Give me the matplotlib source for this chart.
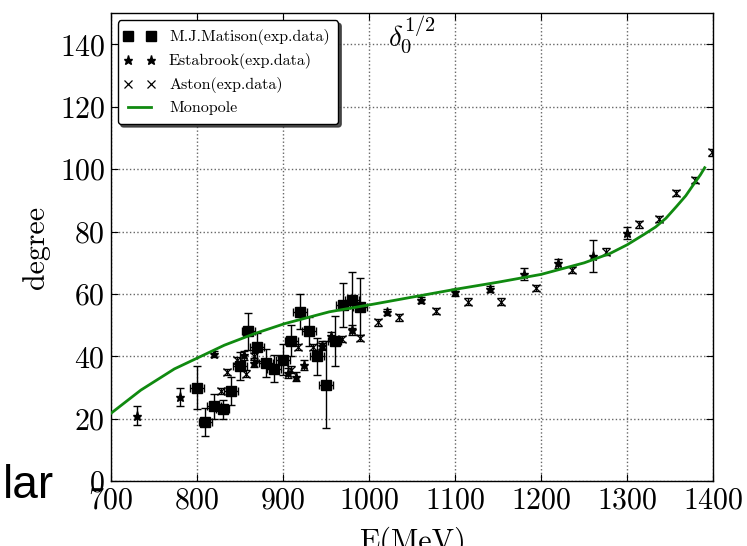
import matplotlib

matplotlib.use("Agg")
import matplotlib.pyplot as plt
from matplotlib.legend_handler import HandlerLine2D
from matplotlib.lines import Line2D

plt.rcParams["font.family"] = "serif"
plt.rcParams["font.serif"] = ["cmr10", "DejaVu Serif"]
plt.rcParams["mathtext.fontset"] = "cm"
plt.rcParams["axes.formatter.use_mathtext"] = True

# M.J.Matison (exp. data): squares with x and y error bars
mm_e = [800, 810, 820, 830, 840, 850, 860, 870, 880, 890,
        900, 910, 920, 930, 940, 950, 960, 970, 980, 990]
mm_d = [30, 19, 24, 23, 29, 37, 48, 43, 38, 36,
        39, 45, 54.4, 48, 40, 31, 45, 56.5, 58, 56]
mm_derr = [7, 4.5, 4, 3, 4.5, 4.5, 6, 4.5, 4.5, 4.3,
           5, 5, 5.5, 4.6, 6, 14, 8, 7, 9, 9]
mm_eerr = [8] * len(mm_e)

# Estabrook (exp. data): stars
es_e = [730, 780, 820, 855, 866, 906, 915, 925, 945, 956, 980,
        1021, 1060, 1100, 1141, 1180, 1220, 1260, 1300]
es_d = [21, 27, 40.7, 40.3, 38, 34.7, 33.5, 37.2, 43.5, 46.4, 48.5,
        54.3, 58.2, 60.5, 61.6, 66.5, 69.8, 72.2, 79.6]
es_derr = [3, 3, 1, 1.5, 1.5, 1.5, 1.5, 1.5, 1.5, 1.5, 1.5,
           1, 1, 1, 1, 2, 1.5, 5, 2]

# Aston (exp. data): crosses
as_e = [828, 835, 847, 857, 867, 909, 918, 935, 946, 969, 990,
        1011, 1035, 1078, 1115, 1153, 1194, 1236, 1275, 1314, 1337,
        1357, 1379, 1398]
as_d = [29, 35, 38.7, 34.5, 40, 35.8, 43, 43, 43.3, 45.5, 46,
        50.9, 52.5, 54.6, 57.6, 57.6, 62, 67.7, 73.6, 82.3, 84,
        92.5, 96.5, 105.4]

# Monopole model curve
mono_e = [700, 735, 774, 800, 832, 867, 902, 954, 1000, 1050, 1100,
          1150, 1200, 1250, 1280, 1300, 1310, 1320, 1333, 1345, 1357,
          1368, 1378, 1385, 1390]
mono_d = [21.7, 29.2, 36, 39.4, 43.6, 47.3, 50.5, 54.3, 56.5, 59, 61.5,
          63.8, 66.3, 70, 73, 75.8, 77.5, 79.2, 81.5, 84.3, 88,
          91.5, 95.5, 98.2, 100.5]

fig = plt.figure(figsize=(7.47, 5.46), dpi=100)
ax = fig.add_axes([110.7 / 747, 1 - 481.2 / 546,
                   (713.3 - 110.7) / 747, (481.2 - 13.3) / 546])

ebar = dict(fmt="none", ecolor="k", elinewidth=1.0, capsize=2.7, capthick=1.0, zorder=3)
ax.errorbar(mm_e, mm_d, yerr=mm_derr, xerr=mm_eerr, **ebar)
ax.errorbar(es_e, es_d, yerr=es_derr, **ebar)
ax.errorbar(as_e, as_d, yerr=[1] * len(as_e), **ebar)

ax.plot(mm_e, mm_d, ls="none", marker="s", ms=7, color="k",
        label="M.J.Matison(exp.data)", zorder=4)
ax.plot(es_e, es_d, ls="none", marker="*", ms=6.5, color="k",
        label="Estabrook(exp.data)", zorder=4)
ax.plot(as_e, as_d, ls="none", marker="x", ms=5.5, mew=0.9, color="k",
        label="Aston(exp.data)", zorder=4)
ax.plot(mono_e, mono_d, color="#108a10", lw=2.0, label="Monopole", zorder=5)

ax.set_xlim(700, 1400)
ax.set_ylim(0, 150)
ax.set_xticks(range(700, 1401, 100))
ax.set_yticks(range(0, 141, 20))
ax.grid(True, linestyle=":", color="0.4", linewidth=1.0)
ax.tick_params(direction="in", top=True, right=True, labelsize=21.5,
               length=5, pad=4)
for s in ax.spines.values():
    s.set_linewidth(1.0)

ax.set_xlabel("E(MeV)", fontsize=21.5, labelpad=9)
ax.set_ylabel("degree", fontsize=21.5, labelpad=7)
ax.text(0.5, 0.955, r"$\delta_0^{1/2}$", transform=ax.transAxes,
        ha="center", va="center", fontsize=21)

leg = ax.legend(loc="upper left", numpoints=2, fontsize=11.5, fancybox=True,
                shadow={"shade": 0.8, "alpha": 0.85}, framealpha=1,
                edgecolor="k", handlelength=1.65, handletextpad=1.0,
                labelspacing=0.5, borderpad=0.55, borderaxespad=0.45,
                handler_map={Line2D: HandlerLine2D(marker_pad=0.1)})
leg.get_frame().set_linewidth(1.0)

fig.text(3 / 747, 1 - 498 / 546, "lar", fontsize=33,
         family="Liberation Sans", ha="left", va="baseline")

fig.savefig("out.png", dpi=100)
